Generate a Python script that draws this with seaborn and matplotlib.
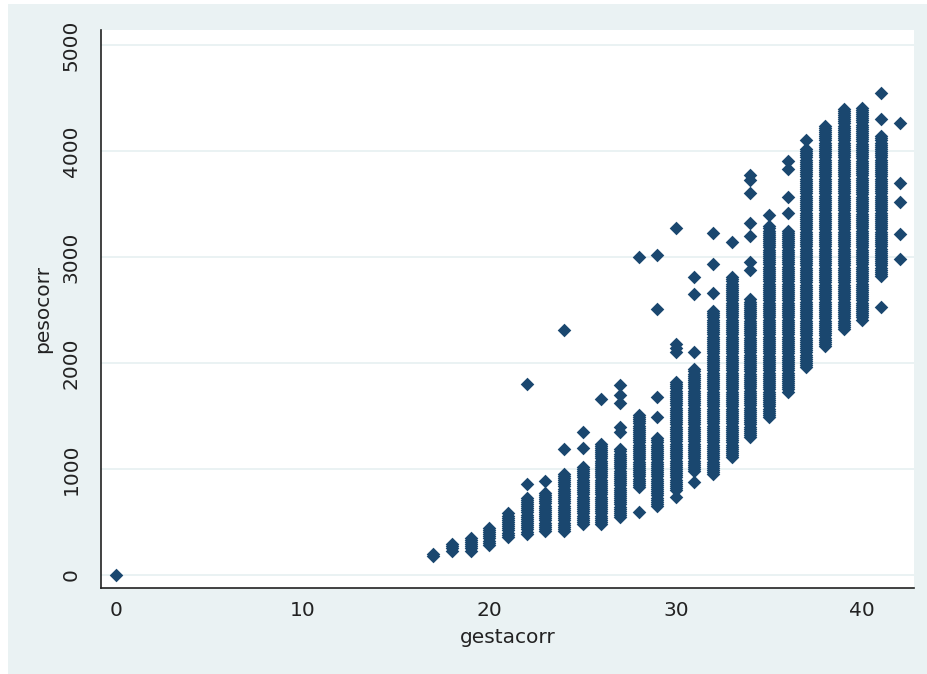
import numpy as np
import pandas as pd
import matplotlib
matplotlib.use("Agg")
import matplotlib.pyplot as plt
from matplotlib.patches import Rectangle
import seaborn as sns

# Gestational week (gestacorr) and the continuous span of birth weights (pesocorr, g)
semanas = [17, 18, 19, 20, 21, 22, 23, 24, 25, 26, 27, 28, 29,
           30, 31, 32, 33, 34, 35, 36, 37, 38, 39, 40, 41]
peso_min = [175, 230, 230, 285, 360, 390, 415, 415, 480, 480, 545, 830, 650,
            800, 980, 950, 1110, 1300, 1490, 1730, 1960, 2160, 2320, 2410, 2820]
peso_max = [205, 290, 365, 450, 585, 730, 775, 955, 1030, 1245, 1190, 1520, 1300,
            1830, 1950, 2490, 2820, 2600, 3300, 3260, 4020, 4255, 4400, 4415, 4140]

# Isolated observations outside those spans
sueltos_semana = [0, 22, 22, 23, 24, 24, 25, 25, 26,
                  27, 27, 27, 27, 27, 28, 28, 29, 29, 29, 29,
                  30, 30, 30, 30, 30, 31, 31, 31, 31, 32, 32, 32, 33,
                  34, 34, 34, 34, 34, 34, 34, 35, 36, 36, 36, 36, 37,
                  41, 41, 41, 42, 42, 42, 42, 42]
sueltos_peso = [0, 860, 1800, 885, 1185, 2310, 1200, 1350, 1660,
                1350, 1400, 1620, 1700, 1790, 590, 3000, 1490, 1680, 2510, 3020,
                740, 2100, 2140, 2180, 3270, 880, 2100, 2650, 2810, 2660, 2930, 3230, 3140,
                2880, 2950, 3200, 3320, 3600, 3730, 3770, 3400, 3420, 3570, 3830, 3910, 4100,
                2530, 4300, 4550, 2980, 3220, 3520, 3700, 4260]

x_ticks = [0, 10, 20, 30, 40]
y_ticks = [0, 1000, 2000, 3000, 4000, 5000]

NAVY = "#1a476f"
BLUISH_GRAY = "#eaf2f3"

# Each span holds many births of the same week; lay them out at 20 g spacing
filas = []
for s, lo, hi in zip(semanas, peso_min, peso_max):
    for p in np.arange(lo, hi + 1, 20):
        filas.append((s, p))
for s, p in zip(sueltos_semana, sueltos_peso):
    filas.append((s, p))
df = pd.DataFrame(filas, columns=["gestacorr", "pesocorr"])

sns.set_theme(style="white")
plt.rcParams["font.family"] = ["DejaVu Sans"]

fig = plt.figure(figsize=(9.27, 6.74), dpi=100, facecolor="white")
fondo = Rectangle((8 / 927, 0), 1, 1 - 4 / 674, transform=fig.transFigure,
                  facecolor=BLUISH_GRAY, edgecolor="none", zorder=-10)
fig.patches.append(fondo)

ax = fig.add_axes([101 / 927, 1 - 588 / 674, 813 / 927, 558 / 674])
ax.set_zorder(1)
ax.set_facecolor("white")

sns.scatterplot(data=df, x="gestacorr", y="pesocorr", marker="D", s=48,
                color=NAVY, linewidth=0, ax=ax, zorder=3)

ax.set_xlim(-0.82, 42.77)
ax.set_ylim(-123, 5142)
ax.set_xticks(x_ticks)
ax.set_yticks(y_ticks)

ax.yaxis.grid(True, color=BLUISH_GRAY, linewidth=1.4)
ax.xaxis.grid(False)
ax.set_axisbelow(True)

for side in ("top", "right"):
    ax.spines[side].set_visible(False)
for side in ("left", "bottom"):
    ax.spines[side].set_color("#222222")
    ax.spines[side].set_linewidth(1.2)

ax.tick_params(axis="both", direction="out", length=6.5, width=1.1,
               color="#222222", labelsize=14.5, labelcolor="#222222")
ax.tick_params(axis="x", pad=3)
ax.tick_params(axis="y", pad=8, labelrotation=90)
for lab in ax.get_yticklabels():
    lab.set_verticalalignment("center")

ax.set_xlabel("gestacorr", fontsize=14.5, color="#222222")
ax.set_ylabel("pesocorr", fontsize=14.5, color="#222222")
ax.xaxis.set_label_coords(0.5, -0.088)
ax.yaxis.set_label_coords(-0.072, 0.5)
ax.xaxis.label.set_verticalalignment("center")
ax.yaxis.label.set_verticalalignment("center")

fig.savefig("out.png", dpi=100, facecolor=fig.get_facecolor())
